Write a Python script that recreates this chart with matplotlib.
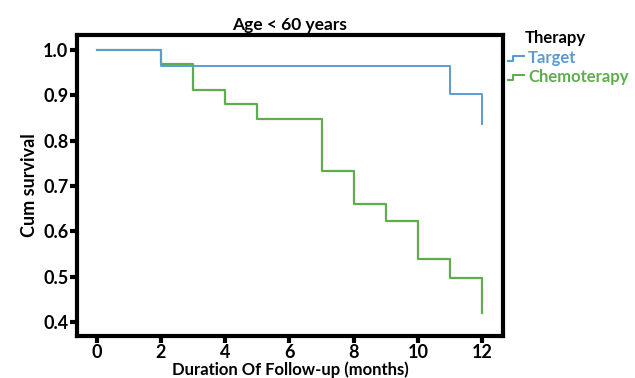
import matplotlib
matplotlib.use("Agg")
import matplotlib.pyplot as plt
from matplotlib.lines import Line2D

plt.rcParams['font.family'] = ['Lato', 'DejaVu Sans']
plt.rcParams['font.weight'] = 'bold'

# Data
target_time = [0, 2, 11, 12]
target_surv = [1.0, 0.966, 0.903, 0.838]
chemo_time = [0, 2, 3, 4, 5, 7, 8, 9, 10, 11, 12]
chemo_surv = [1.0, 0.970, 0.912, 0.882, 0.847, 0.733, 0.660, 0.623, 0.540, 0.497, 0.420]
xticks = [0, 2, 4, 6, 8, 10, 12]
yticks = [0.4, 0.5, 0.6, 0.7, 0.8, 0.9, 1.0]

blue = '#5b9bd5'
green = '#5fad4e'

fig = plt.figure(figsize=(6.35, 3.78), dpi=100)
ax = fig.add_axes([0.121, 0.111, 0.671, 0.796])

def km(t, s):
    xs, ys = [t[0]], [s[0]]
    for i in range(1, len(t)):
        xs += [t[i], t[i]]
        ys += [s[i-1], s[i]]
    return xs, ys

gx, gy = km(chemo_time, chemo_surv)
bx, by = km(target_time, target_surv)
ax.plot(gx, gy, color=green, lw=1.6)
ax.plot(bx, by, color=blue, lw=1.4)

ax.set_xlim(-0.62, 12.65)
ax.set_ylim(0.369, 1.033)
ax.set_xticks(xticks)
ax.set_yticks(yticks)
ax.set_yticklabels([f"{v:.1f}" for v in yticks])
for sp in ax.spines.values():
    sp.set_linewidth(3)
ax.tick_params(width=3, length=5, labelsize=13, pad=1)
for lbl in ax.get_xticklabels() + ax.get_yticklabels():
    lbl.set_fontweight('bold')

ax.set_title('Age < 60 years', fontsize=12.5, fontweight='bold', pad=4)
ax.set_xlabel('Duration Of Follow-up (months)', fontsize=12, fontweight='bold', labelpad=0)
ax.set_ylabel('Cum survival', fontsize=13, fontweight='bold', labelpad=4)

# Legend
fig.text(525/635, 1 - 38/378, 'Therapy', fontsize=12, fontweight='bold', va='center', ha='left')
for yy, col, name in [(58, blue, 'Target'), (77, green, 'Chemoterapy')]:
    yf = 1 - yy/378
    dy = 2.5/378
    fig.add_artist(Line2D([508/635, 513/635, 513/635, 524/635],
                          [yf - dy, yf - dy, yf + dy, yf + dy],
                          color=col, lw=1.5, transform=fig.transFigure))
    fig.text(528/635, yf, name, fontsize=12, fontweight='bold', color=col, va='center', ha='left')

fig.savefig('out.png', dpi=100)
